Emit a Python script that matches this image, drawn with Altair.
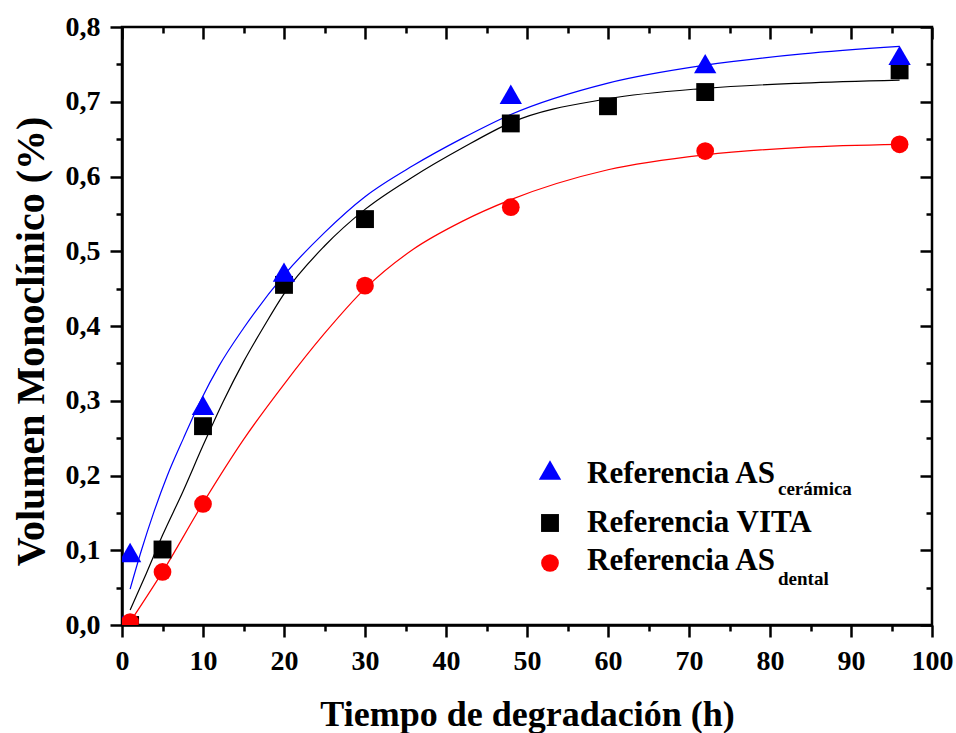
import altair as alt
import pandas as pd

# ---------------- data ----------------
series = ["Referencia AS cerámica", "Referencia VITA", "Referencia AS dental"]
colors = ["#0000ff", "#000000", "#ff0000"]

# measured points
t_ceramica = [0, 1, 10, 20, 48, 72, 96]
v_ceramica = [0.0, 0.097, 0.294, 0.472, 0.710, 0.751, 0.762]
t_vita = [1, 5, 10, 20, 30, 48, 60, 72, 96]
v_vita = [0.0, 0.101, 0.266, 0.455, 0.543, 0.671, 0.694, 0.713, 0.742]
t_dental = [1, 5, 10, 30, 48, 72, 96]
v_dental = [0.004, 0.071, 0.162, 0.454, 0.559, 0.634, 0.643]

# fitted curves
fit_t_ceramica = [1, 2.4, 3.9, 5.6, 7.6, 9.7, 12, 15, 20, 25, 30, 36, 42, 48, 60, 72, 84, 96]
fit_v_ceramica = [0.048, 0.100, 0.150, 0.200, 0.250, 0.300, 0.347, 0.397, 0.468, 0.525,
                  0.573, 0.615, 0.651, 0.683, 0.725, 0.749, 0.764, 0.774]
fit_t_vita = [1, 3, 5, 7.5, 10, 12.5, 15, 17.5, 20, 25, 30, 36, 42, 48, 60, 72, 84, 96]
fit_v_vita = [0.020, 0.069, 0.120, 0.178, 0.240, 0.299, 0.352, 0.399, 0.443, 0.507,
              0.556, 0.600, 0.638, 0.672, 0.704, 0.718, 0.725, 0.729]
fit_t_dental = [1, 5, 10, 15, 20, 25, 30, 36, 42, 48, 60, 72, 84, 96]
fit_v_dental = [0.004, 0.071, 0.163, 0.248, 0.322, 0.390, 0.450, 0.503, 0.540, 0.569,
                0.609, 0.629, 0.639, 0.643]

# axis ticks
x_major = [0, 10, 20, 30, 40, 50, 60, 70, 80, 90, 100]
x_minor = [5, 15, 25, 35, 45, 55, 65, 75, 85, 95]
y_major = [0.0, 0.1, 0.2, 0.3, 0.4, 0.5, 0.6, 0.7, 0.8]
y_minor = [0.05, 0.15, 0.25, 0.35, 0.45, 0.55, 0.65, 0.75]

legend_main = ["Referencia AS", "Referencia VITA", "Referencia AS"]
legend_sub = ["cerámica", "", "dental"]

# ---------------- frames ----------------
df_fit = pd.concat([
    pd.DataFrame({"t": fit_t_ceramica, "v": fit_v_ceramica, "serie": series[0]}),
    pd.DataFrame({"t": fit_t_vita, "v": fit_v_vita, "serie": series[1]}),
    pd.DataFrame({"t": fit_t_dental, "v": fit_v_dental, "serie": series[2]}),
], ignore_index=True)
df_cer = pd.DataFrame({"t": t_ceramica, "v": v_ceramica})
df_vita = pd.DataFrame({"t": t_vita, "v": v_vita})
df_den = pd.DataFrame({"t": t_dental, "v": v_dental})

FONT = "Liberation Serif"
xscale = alt.Scale(domain=[0, 100], nice=False, zero=False)
yscale = alt.Scale(domain=[0, 0.8], nice=False, zero=False)


def tick_axis(orient, values, size, offset=0):
    kw = dict(orient=orient, values=values, tickSize=size, tickWidth=2.5,
              tickColor="black", labels=False, domain=False, grid=False, title=None)
    if offset:
        kw["offset"] = offset
    return alt.Axis(**kw)


x_main_axis = alt.Axis(
    orient="bottom", values=x_major, tickSize=12, tickWidth=2.5, tickColor="black",
    domain=True, domainWidth=2.5, domainColor="black", grid=False,
    labelFont=FONT, labelFontSize=28, labelFontWeight="bold", labelColor="black",
    labelPadding=10, labelFlush=False, labelOverlap=False,
    title="Tiempo de degradación (h)", titleFont=FONT, titleFontSize=36,
    titleFontWeight="bold", titleColor="black", titleBaseline="alphabetic",
    titleX=405, titleY=100, titleAlign="center",
)
y_main_axis = alt.Axis(
    orient="left", values=y_major, tickSize=12, tickWidth=2.5, tickColor="black",
    domain=True, domainWidth=2.5, domainColor="black", grid=False,
    labelFont=FONT, labelFontSize=28, labelFontWeight="bold", labelColor="black",
    labelPadding=10, labelFlush=False, labelOverlap=False,
    labelExpr="replace(format(datum.value, '.1f'), '.', ',')",
    title="Volumen Monoclínico (%)", titleFont=FONT, titleFontSize=40,
    titleFontWeight="bold", titleColor="black", titleAngle=270,
    titleBaseline="alphabetic", titleX=-79, titleY=314, titleAlign="center",
)

lines = alt.Chart(df_fit).mark_line(strokeWidth=1.2, clip=True, interpolate="monotone").encode(
    x=alt.X("t:Q", scale=xscale, axis=x_main_axis),
    y=alt.Y("v:Q", scale=yscale, axis=y_main_axis),
    color=alt.Color("serie:N", scale=alt.Scale(domain=series, range=colors), legend=None),
)

pts_vita = alt.Chart(df_vita).mark_point(
    shape="square", filled=True, size=320, color="black", opacity=1, strokeWidth=0, clip=True
).encode(
    x=alt.X("t:Q", scale=xscale, axis=tick_axis("bottom", x_minor, 6)),
    y=alt.Y("v:Q", scale=yscale, axis=tick_axis("left", y_minor, 6)),
)
pts_cer = alt.Chart(df_cer).mark_point(
    shape="triangle-up", filled=True, size=500, color="#0000ff", opacity=1, strokeWidth=0, clip=True
).encode(
    x=alt.X("t:Q", scale=xscale, axis=tick_axis("top", x_major, 12, -12)),
    y=alt.Y("v:Q", scale=yscale, axis=tick_axis("right", y_major, 12, -12)),
)
pts_den = alt.Chart(df_den).mark_point(
    shape="circle", filled=True, size=314, color="#ff0000", opacity=1, strokeWidth=0, clip=True
).encode(
    x=alt.X("t:Q", scale=xscale, axis=tick_axis("top", x_minor, 6, -6)),
    y=alt.Y("v:Q", scale=yscale, axis=tick_axis("right", y_minor, 6, -6)),
)

# ---------------- custom legend (with subscripts) ----------------
def sym(shape, size, color, px, py):
    return alt.Chart(pd.DataFrame({"k": [0]})).mark_point(
        shape=shape, filled=True, size=size, color=color, opacity=1, strokeWidth=0
    ).encode(x=alt.value(px), y=alt.value(py))


def txt(text, fs, px, py):
    return alt.Chart(pd.DataFrame({"t": [text]})).mark_text(
        font=FONT, fontSize=fs, fontWeight="bold", color="black",
        align="left", baseline="alphabetic"
    ).encode(x=alt.value(px), y=alt.value(py), text="t:N")


legend_layers = [
    sym("triangle-up", 500, "#0000ff", 428, 443),
    sym("square", 320, "black", 428, 496),
    sym("circle", 314, "#ff0000", 428, 536),
    txt(legend_main[0], 31, 465, 456),
    txt(legend_sub[0], 19, 656, 468),
    txt(legend_main[1], 31, 465, 505),
    txt(legend_main[2], 31, 465, 543),
    txt(legend_sub[2], 19, 656, 558),
]

chart = alt.layer(lines, pts_vita, pts_cer, pts_den, *legend_layers).resolve_axis(
    x="independent", y="independent"
).properties(
    width=810, height=598,
    autosize=alt.AutoSizeParams(type="none"),
    padding={"left": 122, "top": 27, "right": 24, "bottom": 108},
    background="white",
).configure_view(stroke="black", strokeWidth=2.5)

chart.save("out.html", embed_options={"renderer": "svg", "actions": False})
